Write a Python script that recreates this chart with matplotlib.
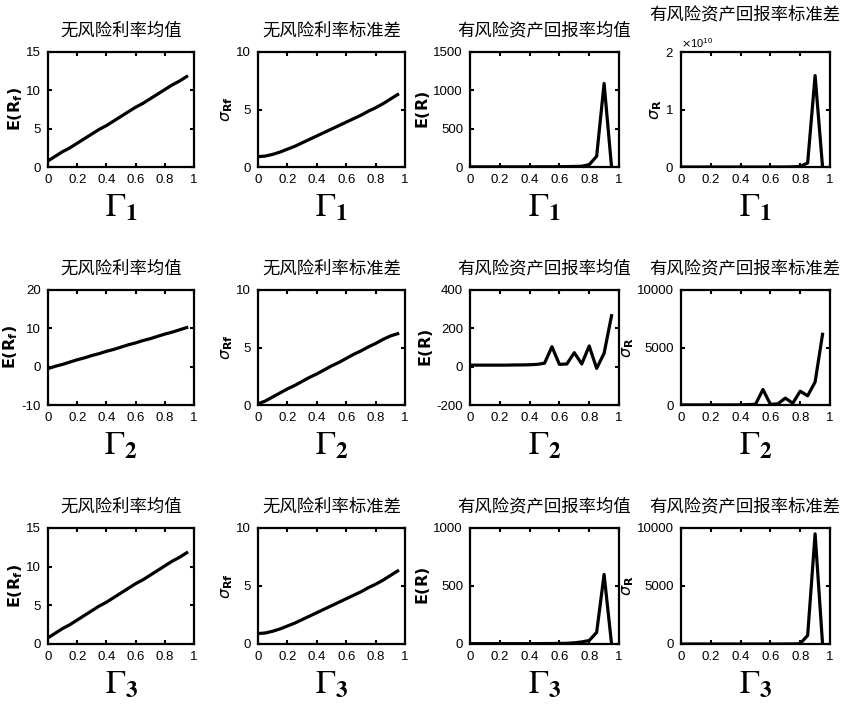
import numpy as np
import matplotlib
matplotlib.use("Agg")
import matplotlib.pyplot as plt
from matplotlib.ticker import ScalarFormatter

plt.rcParams['font.family'] = ['Liberation Sans Narrow', 'Liberation Sans', 'DejaVu Sans']
plt.rcParams['mathtext.fontset'] = 'dejavusans'

# 横轴：Gamma 取值
gamma = [0.00, 0.05, 0.10, 0.15, 0.20, 0.25, 0.30, 0.35, 0.40, 0.45,
         0.50, 0.55, 0.60, 0.65, 0.70, 0.75, 0.80, 0.85, 0.90, 0.95]

# 第一行 Gamma_1
rf_mean_1 = [0.8, 1.4, 2.0, 2.5, 3.1, 3.7, 4.3, 4.9, 5.4, 6.0,
             6.6, 7.2, 7.8, 8.3, 8.9, 9.5, 10.1, 10.7, 11.2, 11.8]
rf_std_1 = [0.9, 0.95, 1.1, 1.3, 1.55, 1.8, 2.1, 2.4, 2.7, 3.0,
            3.3, 3.6, 3.9, 4.2, 4.5, 4.85, 5.15, 5.5, 5.9, 6.3]
r_mean_1 = [2, 2, 2, 2, 2, 2, 2, 2, 2, 3,
            3, 3, 4, 5, 7, 10, 30, 140, 1090, 0]
r_std_1 = [0, 0, 0, 0, 0, 0, 0, 0, 0, 0,
           0, 0, 0, 0, 0.001e10, 0.003e10, 0.01e10, 0.07e10, 1.59e10, 0]

# 第二行 Gamma_2
rf_mean_2 = [-0.5, 0.1, 0.6, 1.2, 1.8, 2.3, 2.9, 3.4, 4.0, 4.5,
             5.1, 5.7, 6.2, 6.8, 7.3, 7.9, 8.5, 9.0, 9.6, 10.2]
rf_std_2 = [0.1, 0.35, 0.7, 1.05, 1.4, 1.7, 2.05, 2.4, 2.7, 3.05,
            3.4, 3.7, 4.05, 4.4, 4.7, 5.05, 5.35, 5.7, 6.0, 6.2]
r_mean_2 = [8, 8, 8, 8, 8, 8, 9, 9, 10, 12,
            18, 104, 12, 14, 73, 14, 108, -9, 70, 266]
r_std_2 = [10, 10, 10, 10, 10, 10, 10, 10, 20, 30,
           60, 1350, 60, 100, 600, 150, 1200, 800, 2000, 6150]

# 第三行 Gamma_3
rf_mean_3 = rf_mean_1
rf_std_3 = rf_std_1
r_mean_3 = [3, 3, 3, 3, 3, 3, 3, 3, 3, 3,
            4, 4, 5, 6, 10, 18, 30, 100, 600, 0]
r_std_3 = [0, 0, 0, 0, 0, 0, 0, 0, 0, 0,
           0, 0, 0, 0, 5, 10, 30, 740, 9500, 0]

titles = ['无风险利率均值', '无风险利率标准差', '有风险资产回报率均值', '有风险资产回报率标准差']
ylabels = [r'$\mathbf{E(R_f)}$', r'$\sigma_{\mathbf{Rf}}$', r'$\mathbf{E(R)}$', r'$\sigma_{\mathbf{R}}$']
xlabels = [r'$\Gamma_{\mathbf{1}}$', r'$\Gamma_{\mathbf{2}}$', r'$\Gamma_{\mathbf{3}}$']

data = [[rf_mean_1, rf_std_1, r_mean_1, r_std_1],
        [rf_mean_2, rf_std_2, r_mean_2, r_std_2],
        [rf_mean_3, rf_std_3, r_mean_3, r_std_3]]

ylims = [[(0, 15), (0, 10), (0, 1500), (0, 2e10)],
         [(-10, 20), (0, 10), (-200, 400), (0, 10000)],
         [(0, 15), (0, 10), (0, 1000), (0, 10000)]]
yticks = [[[0, 5, 10, 15], [0, 5, 10], [0, 500, 1000, 1500], [0, 1e10, 2e10]],
          [[-10, 0, 10, 20], [0, 5, 10], [-200, 0, 200, 400], [0, 5000, 10000]],
          [[0, 5, 10, 15], [0, 5, 10], [0, 500, 1000], [0, 5000, 10000]]]

W, H = 842, 714
fig = plt.figure(figsize=(W / 100, H / 100), dpi=100)

cols = [(48, 194), (258, 405), (470, 619), (681, 830)]
rows = [(52, 167), (290, 405), (528, 644)]

for i in range(3):
    for j in range(4):
        x0, x1 = cols[j]
        y0, y1 = rows[i]
        ax = fig.add_axes([x0 / W, 1 - y1 / H, (x1 - x0) / W, (y1 - y0) / H])
        ax.plot(gamma, data[i][j], color='black', lw=2.3)
        ax.set_xlim(0, 1)
        ax.set_ylim(*ylims[i][j])
        ax.set_xticks([0, 0.2, 0.4, 0.6, 0.8, 1])
        ax.set_xticklabels(['0', '0.2', '0.4', '0.6', '0.8', '1'])
        ax.set_yticks(yticks[i][j])
        if i == 0 and j == 3:
            fmt = ScalarFormatter(useMathText=True)
            fmt.set_powerlimits((0, 0))
            ax.yaxis.set_major_formatter(fmt)
            ax.yaxis.get_offset_text().set_fontsize(8)
        else:
            ax.set_yticklabels([str(int(v)) for v in yticks[i][j]])
        ax.tick_params(direction='in', top=True, right=True, length=3, width=1.5,
                       labelsize=9.5, pad=5)
        for s in ax.spines.values():
            s.set_linewidth(1.6)
        tx = 0.5 if j < 3 else 0.43
        ax.set_title(titles[j], fontsize=12.5, family=['Noto Sans CJK SC', 'DejaVu Sans'],
                     x=tx, pad=12)
        ax.set_ylabel(ylabels[j], fontsize=11.5, labelpad=1)
        ax.set_xlabel(xlabels[i], fontsize=24, labelpad=5,
                      math_fontfamily='stix')

fig.savefig('out.png', dpi=100, facecolor='white')
